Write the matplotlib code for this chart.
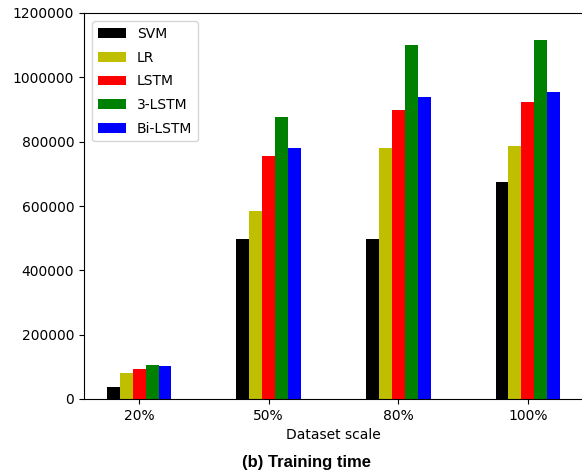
import numpy as np
import matplotlib
matplotlib.use('Agg')
import matplotlib.pyplot as plt
from matplotlib.ticker import FuncFormatter

scales = ['20%', '50%', '80%', '100%']
svm = [36000, 496000, 498000, 675000]
lr = [82000, 586000, 780000, 788000]
lstm = [93000, 756000, 897000, 922000]
lstm3 = [107000, 876000, 1100000, 1116000]
bilstm = [102000, 781000, 940000, 953000]

series = [('SVM', svm, 'k'), ('LR', lr, 'y'), ('LSTM', lstm, 'r'),
          ('3-LSTM', lstm3, 'g'), ('Bi-LSTM', bilstm, 'b')]


def main():
    fig = plt.figure(figsize=(5.82, 4.76), dpi=100)
    ax = fig.add_axes([84 / 582, 1 - 399 / 476, 499 / 582, 386 / 476])
    x = np.arange(len(scales))
    width = 0.1
    for i, (name, vals, color) in enumerate(series):
        ax.bar(x + (i - 2) * width, vals, width, color=color, label=name)
    ax.set_xticks(x)
    ax.set_xticklabels(scales)
    ax.set_ylim(0, 1200000)
    ax.set_yticks(range(0, 1200001, 200000))
    ax.yaxis.set_major_formatter(FuncFormatter(lambda v, p: '%d' % v))
    ax.set_xlabel('Dataset scale')
    ax.legend(loc='upper left', labelspacing=0.7, borderaxespad=0.6)
    fig.text(306 / 582, 1 - 463 / 476, '(b) Training time', ha='center', va='center',
             fontsize=12, fontweight='bold', family='Liberation Sans')
    fig.savefig('out.png', dpi=100)


if __name__ == "__main__":
    main()
